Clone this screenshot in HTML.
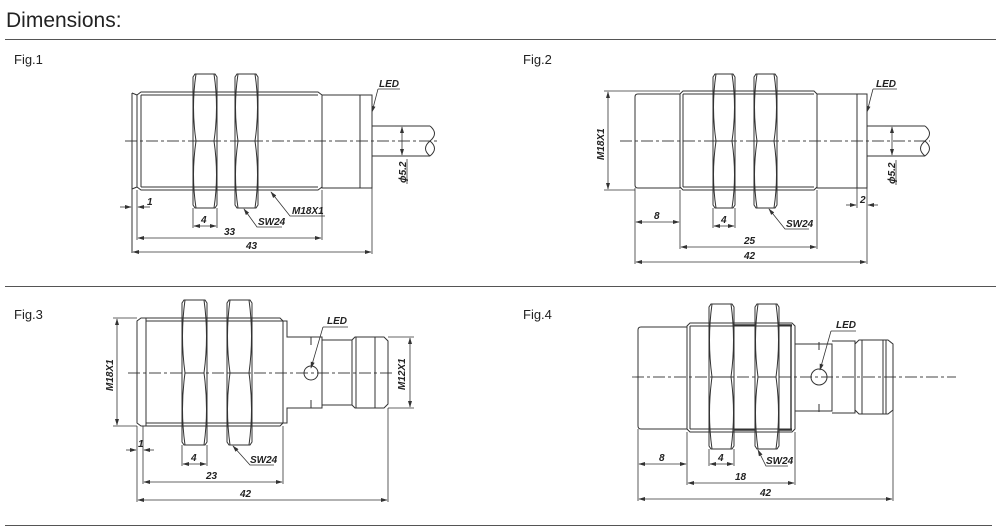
<!DOCTYPE html>
<html><head><meta charset="utf-8"><style>
html,body{margin:0;padding:0;background:#fff;width:996px;height:530px;overflow:hidden}
svg{display:block}
.t{font-family:"Liberation Sans",sans-serif;fill:#222}
.d{font-family:"Liberation Sans",sans-serif;font-style:italic;font-weight:bold;font-size:10px;fill:#222}
.l{stroke:#333;stroke-width:1;fill:none}
.th{stroke:#333;stroke-width:1.4;fill:none}
.c{stroke:#444;stroke-width:0.9;stroke-dasharray:12 3 3 3;fill:none}
.dm{stroke:#333;stroke-width:0.8;fill:none;marker-start:url(#a);marker-end:url(#a)}
.e{stroke:#333;stroke-width:0.8;fill:none}
</style></head><body>
<svg width="996" height="530" viewBox="0 0 996 530" xmlns="http://www.w3.org/2000/svg">
<defs>
<marker id="a" viewBox="0 0 10 6" refX="9" refY="3" markerWidth="7" markerHeight="4" orient="auto-start-reverse" markerUnits="userSpaceOnUse"><path d="M0,0 L10,3 L0,6 z" fill="#333"/></marker>
</defs>
<text class="t" x="6" y="27" font-size="21">Dimensions:</text>
<line x1="5" y1="39.5" x2="996" y2="39.5" stroke="#555" stroke-width="1"/>
<line x1="5" y1="286.5" x2="996" y2="286.5" stroke="#555" stroke-width="1"/>
<line x1="5" y1="525.5" x2="992" y2="525.5" stroke="#555" stroke-width="1"/>
<text class="t" x="14" y="64" font-size="13">Fig.1</text>
<text class="t" x="523" y="64" font-size="13">Fig.2</text>
<text class="t" x="14" y="319" font-size="13">Fig.3</text>
<text class="t" x="523" y="319" font-size="13">Fig.4</text>

<!-- FIG 1 -->
<g>
<line class="c" x1="125" y1="141" x2="438" y2="141"/>
<path class="l" d="M132,93 L132,253"/>
<path class="l" d="M141,92 L318,92 L322,95 L322,187 L318,190 L141,190 L137,187 L137,95 Z"/>
<path class="l" d="M141,95 L141,187 M141,95 L318,95 M141,187 L318,187"/>
<line class="l" x1="132" y1="93" x2="137" y2="95"/>
<line class="l" x1="132" y1="189" x2="137" y2="187"/>
<rect class="l" x="322" y="95" width="38" height="93"/>
<rect class="l" x="360" y="95" width="12" height="93"/>
<path class="l" d="M372,126 L430,126 M372,156 L430,156 M430,126 C436,131 436,136 430,141 C424,146 424,151 430,156 M430,141 C436,146 436,151 430,156"/>
<!-- nuts -->
<g id="nut1">
<path class="l" d="M195,74 L215,74 L217,77 L217,205 L215,208 L195,208 L193,205 L193,77 Z"/>
<path class="l" d="M196,74 Q191,107 196,141 Q191,175 196,208 M214,74 Q219,107 214,141 Q219,175 214,208 M196,141 L214,141"/>
</g>
<path class="l" d="M237,74 L256,74 L258,77 L258,205 L256,208 L237,208 L235,205 L235,77 Z"/>
<path class="l" d="M238,74 Q233,107 238,141 Q233,175 238,208 M255,74 Q260,107 255,141 Q260,175 255,208 M238,141 L255,141"/>
<!-- dims -->
<line class="e" x1="193" y1="208" x2="193" y2="228"/><line class="e" x1="217" y1="208" x2="217" y2="228"/>
<line class="dm" x1="194" y1="226" x2="216" y2="226"/><text class="d" x="201" y="223">4</text>
<line class="e" x1="137" y1="190" x2="137" y2="240"/><line class="e" x1="322" y1="190" x2="322" y2="240"/>
<line class="dm" x1="138" y1="238" x2="321" y2="238"/><text class="d" x="224" y="235">33</text>
<line class="e" x1="372" y1="188" x2="372" y2="254"/>
<line class="dm" x1="133" y1="252" x2="371" y2="252"/><text class="d" x="246" y="249">43</text>
<line class="e" x1="120" y1="207" x2="131" y2="207" marker-end="url(#a)"/>
<line class="e" x1="150" y1="207" x2="138" y2="207" marker-end="url(#a)"/>
<text class="d" x="147" y="205">1</text>
<line class="dm" x1="402" y1="127" x2="402" y2="155"/>
<line class="e" x1="395" y1="126" x2="405" y2="126"/><line class="e" x1="395" y1="156" x2="405" y2="156"/>
<text class="d" transform="translate(406,183) rotate(-90)">ϕ5.2</text>
<line class="e" x1="407" y1="159" x2="407" y2="184"/>
<text class="d" x="379" y="87">LED</text>
<path class="e" d="M378,89 L400,89 M378,89 L372,112" marker-end="url(#a)"/>
<text class="d" x="258" y="225">SW24</text>
<path class="e" d="M282,227 L257,227 L244,209" marker-end="url(#a)"/>
<text class="d" x="292" y="214">M18X1</text>
<path class="e" d="M325,216 L290,216 L271,192" marker-end="url(#a)"/>
</g>

<!-- FIG 2 -->
<g>
<line class="c" x1="620" y1="141" x2="930" y2="141"/>
<path class="l" d="M638,94 L680,94 L680,188 L638,188 Q635,188 635,185 L635,97 Q635,94 638,94 Z"/>
<path class="l" d="M683,91 L814,91 L817,94 L817,187 L814,190 L683,190 L680,187 L680,94 Z"/>
<path class="l" d="M683,94 L683,187 M683,94 L814,94 M683,187 L814,187"/>
<rect class="l" x="817" y="94" width="40" height="94"/>
<rect class="l" x="857" y="94" width="10" height="94"/>
<path class="l" d="M867,126 L925,126 M867,156 L925,156 M925,126 C931,131 931,136 925,141 C919,146 919,151 925,156 M925,141 C931,146 931,151 925,156"/>
<path class="l" d="M715,74 L733,74 L735,77 L735,205 L733,208 L715,208 L713,205 L713,77 Z"/>
<path class="l" d="M716,74 Q711,107 716,141 Q711,175 716,208 M732,74 Q737,107 732,141 Q737,175 732,208 M716,141 L732,141"/>
<path class="l" d="M756,74 L775,74 L777,77 L777,205 L775,208 L756,208 L754,205 L754,77 Z"/>
<path class="l" d="M757,74 Q752,107 757,141 Q752,175 757,208 M774,74 Q779,107 774,141 Q779,175 774,208 M757,141 L774,141"/>
<line class="e" x1="604" y1="91" x2="680" y2="91"/><line class="e" x1="604" y1="190" x2="635" y2="190"/>
<line class="dm" x1="608" y1="92" x2="608" y2="189"/>
<text class="d" transform="translate(604,160) rotate(-90)">M18X1</text>
<line class="e" x1="635" y1="188" x2="635" y2="264"/><line class="e" x1="680" y1="190" x2="680" y2="249"/>
<line class="dm" x1="636" y1="222" x2="679" y2="222"/><text class="d" x="654" y="219">8</text>
<line class="e" x1="713" y1="208" x2="713" y2="228"/><line class="e" x1="735" y1="208" x2="735" y2="228"/>
<line class="dm" x1="714" y1="226" x2="734" y2="226"/><text class="d" x="721" y="223">4</text>
<line class="e" x1="817" y1="190" x2="817" y2="249"/>
<line class="dm" x1="681" y1="247" x2="816" y2="247"/><text class="d" x="744" y="244">25</text>
<line class="e" x1="867" y1="188" x2="867" y2="264"/><line class="e" x1="857" y1="188" x2="857" y2="208"/>
<line class="dm" x1="636" y1="262" x2="866" y2="262"/><text class="d" x="744" y="259">42</text>
<line class="e" x1="846" y1="205" x2="856" y2="205" marker-end="url(#a)"/>
<line class="e" x1="878" y1="205" x2="868" y2="205" marker-end="url(#a)"/>
<text class="d" x="860" y="203">2</text>
<line class="dm" x1="892" y1="127" x2="892" y2="155"/>
<line class="e" x1="885" y1="126" x2="895" y2="126"/><line class="e" x1="885" y1="156" x2="895" y2="156"/>
<text class="d" transform="translate(895,184) rotate(-90)">ϕ5.2</text>
<line class="e" x1="896" y1="160" x2="896" y2="185"/>
<text class="d" x="876" y="87">LED</text>
<path class="e" d="M873,89 L897,89 M873,89 L867,112" marker-end="url(#a)"/>
<text class="d" x="786" y="227">SW24</text>
<path class="e" d="M809,229 L785,229 L769,209" marker-end="url(#a)"/>
</g>

<!-- FIG 3 -->
<g>
<line class="c" x1="128" y1="373" x2="394" y2="373"/>
<path class="l" d="M141,318 L280,318 L283,321 L283,423 L280,426 L141,426 L137,423 L137,321 Z"/>
<path class="l" d="M146,318 L146,426 M146,321 L283,321 M146,423 L283,423"/>
<path class="l" d="M283,321 L287,321 L287,337 L322,337 L322,408 L287,408 L287,423 L283,423"/>
<path class="l" d="M311,337 L311,345 M311,400 L311,408"/>
<circle class="l" cx="311" cy="373" r="7"/>
<path class="l" d="M322,340 L352,340 M322,405 L352,405"/>
<path class="l" d="M355,337 L384,337 L388,341 L388,404 L384,408 L355,408 L352,405 L352,340 Z"/>
<path class="l" d="M356,337 L356,408 M375,337 L375,408"/>
<path class="l" d="M184,300 L205,300 L207,303 L207,442 L205,445 L184,445 L182,442 L182,303 Z"/>
<path class="l" d="M185,300 Q180,336 185,373 Q180,409 185,445 M204,300 Q209,336 204,373 Q209,409 204,445 M185,373 L204,373"/>
<path class="l" d="M229,300 L250,300 L252,303 L252,442 L250,445 L229,445 L227,442 L227,303 Z"/>
<path class="l" d="M230,300 Q225,336 230,373 Q225,409 230,445 M249,300 Q254,336 249,373 Q254,409 249,445 M230,373 L249,373"/>
<line class="e" x1="113" y1="318" x2="137" y2="318"/><line class="e" x1="113" y1="426" x2="137" y2="426"/>
<line class="dm" x1="117" y1="319" x2="117" y2="425"/>
<text class="d" transform="translate(113,391) rotate(-90)">M18X1</text>
<line class="e" x1="388" y1="337" x2="414" y2="337"/><line class="e" x1="388" y1="408" x2="414" y2="408"/>
<line class="dm" x1="410" y1="338" x2="410" y2="407"/>
<text class="d" transform="translate(405,390) rotate(-90)">M12X1</text>
<line class="e" x1="137" y1="426" x2="137" y2="502"/><line class="e" x1="143" y1="426" x2="143" y2="484"/>
<line class="e" x1="126" y1="450" x2="136" y2="450" marker-end="url(#a)"/>
<line class="e" x1="154" y1="450" x2="144" y2="450" marker-end="url(#a)"/>
<text class="d" x="138" y="447">1</text>
<line class="e" x1="182" y1="445" x2="182" y2="466"/><line class="e" x1="207" y1="445" x2="207" y2="466"/>
<line class="dm" x1="183" y1="464" x2="206" y2="464"/><text class="d" x="191" y="461">4</text>
<line class="e" x1="283" y1="426" x2="283" y2="484"/>
<line class="dm" x1="144" y1="482" x2="282" y2="482"/><text class="d" x="206" y="479">23</text>
<line class="e" x1="388" y1="408" x2="388" y2="502"/>
<line class="dm" x1="138" y1="500" x2="387" y2="500"/><text class="d" x="240" y="497">42</text>
<text class="d" x="327" y="324">LED</text>
<path class="e" d="M323,327 L348,327 M323,327 L311,368" marker-end="url(#a)"/>
<text class="d" x="250" y="463">SW24</text>
<path class="e" d="M274,465 L250,465 L233,446" marker-end="url(#a)"/>
</g>

<!-- FIG 4 -->
<g>
<line class="c" x1="632" y1="377" x2="956" y2="377"/>
<path class="l" d="M641,327 L687,327 L687,429 L641,429 Q638,429 638,426 L638,330 Q638,327 641,327 Z"/>
<path class="l" d="M690,323 L792,323 L795,326 L795,429 L792,432 L690,432 L687,429 L687,326 Z"/>
<path class="l" d="M690,326 L690,429 M690,326 L792,326 M690,429 L792,429"/>
<path class="th" d="M734,325 L755,325 M734,430 L755,430 M779,325 L792,325 M779,430 L792,430 M791,326 L791,430"/>
<path class="l" d="M795,344 L832,344 L832,411 L795,411"/>
<path class="l" d="M819,342 L819,350 M819,404 L819,412"/>
<circle class="l" cx="819" cy="377" r="8"/>
<path class="l" d="M832,341 L855,341 L855,413 L832,413"/>
<path class="l" d="M859,340 L888,340 L893,344 L893,410 L888,414 L859,414 L855,410 L855,344 Z"/>
<path class="l" d="M862,340 L862,414 M883,340 L883,414 M886,340 L886,414"/>
<path class="l" d="M711,304 L732,304 L734,307 L734,446 L732,449 L711,449 L709,446 L709,307 Z"/>
<path class="l" d="M712,304 Q707,340 712,377 Q707,413 712,449 M731,304 Q736,340 731,377 Q736,413 731,449 M712,377 L731,377"/>
<path class="l" d="M757,304 L777,304 L779,307 L779,446 L777,449 L757,449 L755,446 L755,307 Z"/>
<path class="l" d="M758,304 Q753,340 758,377 Q753,413 758,449 M776,304 Q781,340 776,377 Q781,413 776,449 M758,377 L776,377"/>
<line class="e" x1="638" y1="429" x2="638" y2="501"/><line class="e" x1="687" y1="432" x2="687" y2="485"/>
<line class="dm" x1="639" y1="464" x2="686" y2="464"/><text class="d" x="659" y="461">8</text>
<line class="e" x1="709" y1="449" x2="709" y2="466"/><line class="e" x1="734" y1="449" x2="734" y2="466"/>
<line class="dm" x1="710" y1="464" x2="733" y2="464"/><text class="d" x="718" y="461">4</text>
<line class="e" x1="795" y1="432" x2="795" y2="485"/>
<line class="dm" x1="688" y1="483" x2="794" y2="483"/><text class="d" x="735" y="480">18</text>
<line class="e" x1="893" y1="410" x2="893" y2="501"/>
<line class="dm" x1="639" y1="499" x2="892" y2="499"/><text class="d" x="760" y="496">42</text>
<text class="d" x="836" y="328">LED</text>
<path class="e" d="M831,331 L856,331 M831,331 L820,370" marker-end="url(#a)"/>
<text class="d" x="766" y="464">SW24</text>
<path class="e" d="M788,466 L766,466 L758,450" marker-end="url(#a)"/>
</g>
</svg>
</body></html>
